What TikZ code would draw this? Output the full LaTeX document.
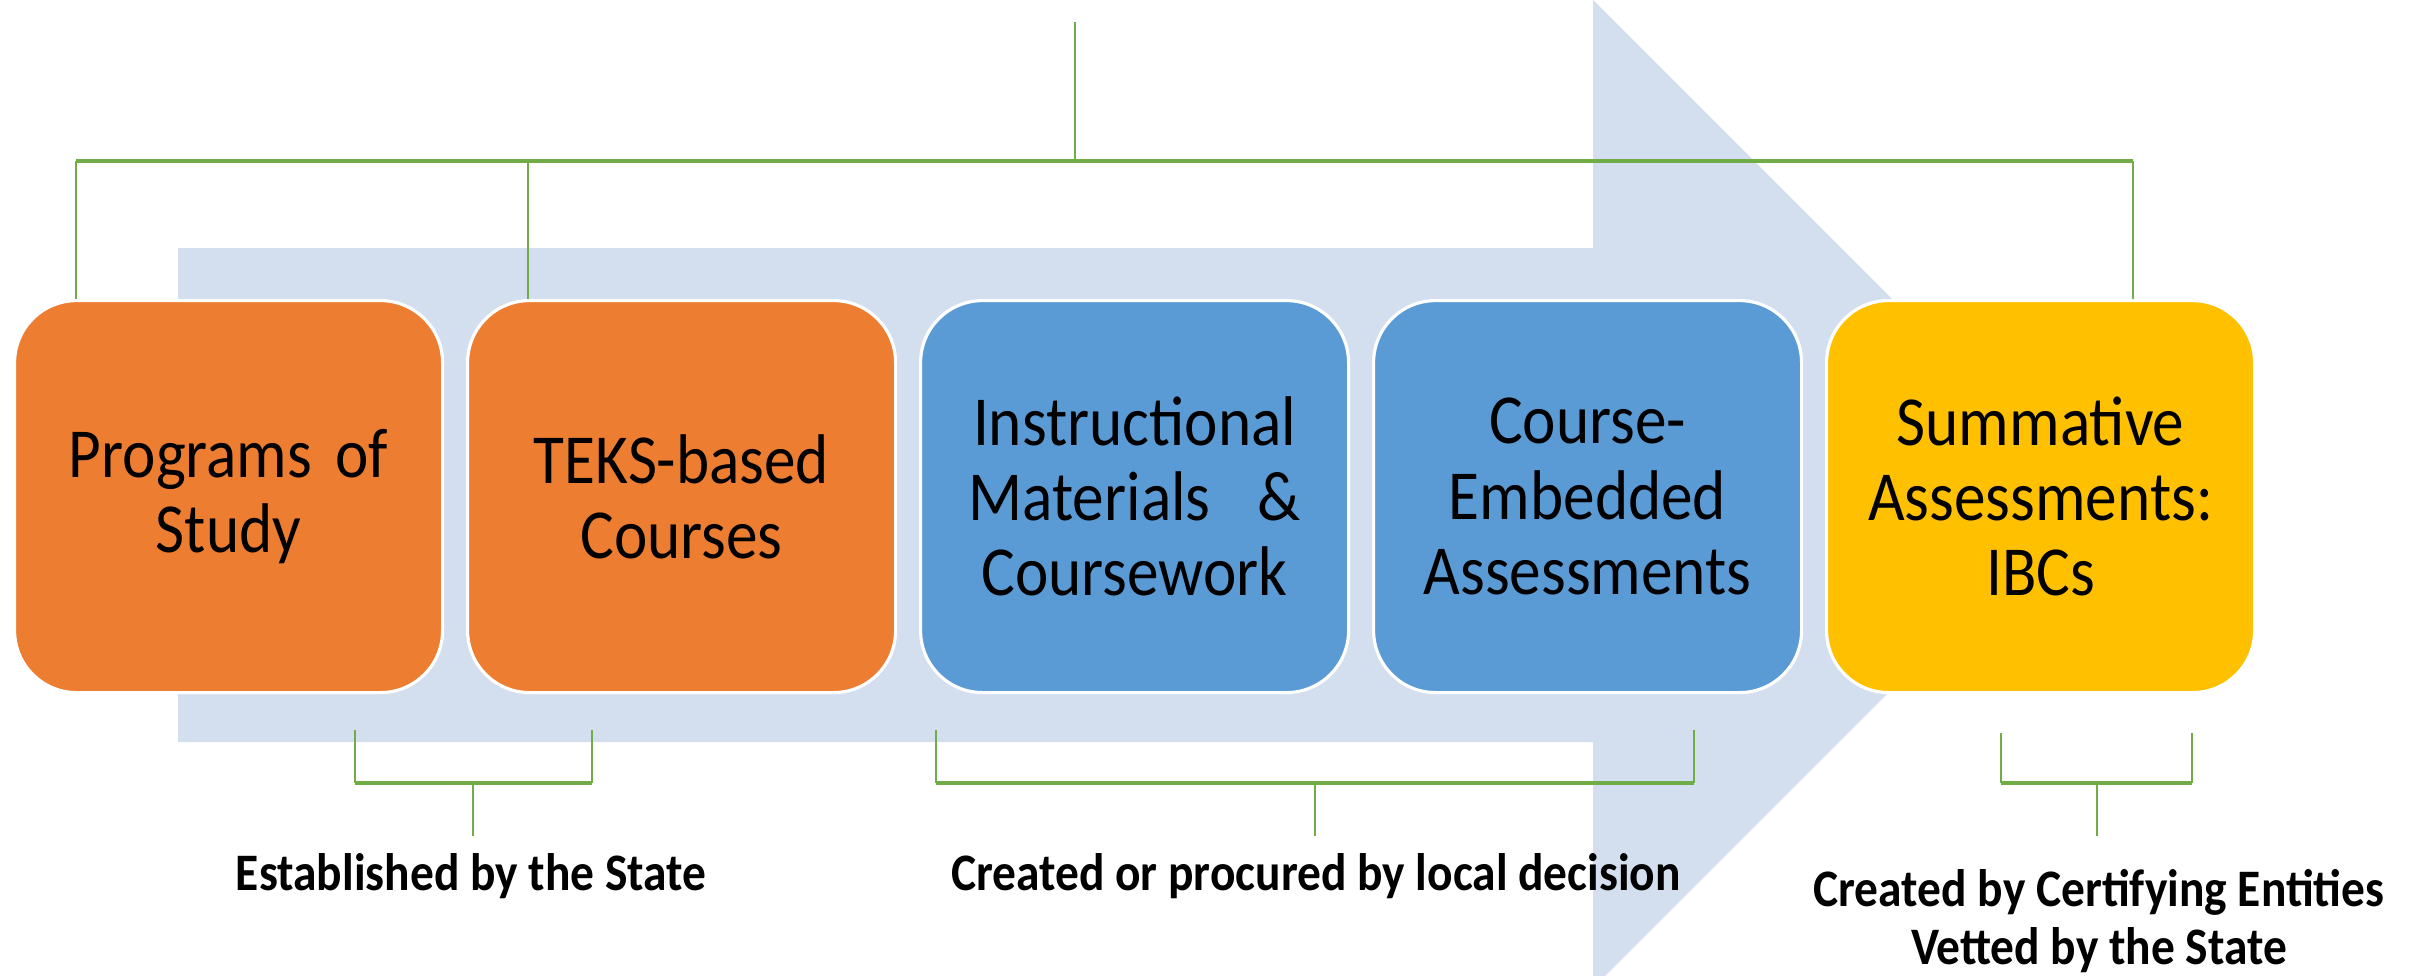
\documentclass[tikz,border=0pt]{standalone}
\usepackage{fontspec}
\setmainfont{Carlito}[FakeStretch=0.9]
\usepackage{tikz}
\definecolor{stepOrange}{HTML}{ED7D31}
\definecolor{stepBlue}{HTML}{5B9BD5}
\definecolor{stepGold}{HTML}{FFC000}
\definecolor{linkGreen}{HTML}{70AD47}
\definecolor{arrowBack}{HTML}{D3DEEF}
\pgfmathsetmacro{\boxW}{4.28}
\pgfmathsetmacro{\boxH}{3.92}
\pgfmathsetmacro{\boxStep}{4.53}
\tikzset{
	stepbox/.style= {
		shape=rectangle, rounded corners=6.2mm,
		minimum width=\boxW cm, minimum height=\boxH cm,
		inner sep=0, anchor=north west,
		draw=white, line width=0.9pt,
		text width=3.9cm, align=center,
		font=\fontsize{20}{21.4}\selectfont
	},
	bus/.style={draw=linkGreen, line width=1.1pt},
	stem/.style={draw=linkGreen, line width=0.75pt},
	note/.style={font=\bfseries\fontsize{15}{16.4}\selectfont, align=center, inner sep=0}
}

\begin{document}
\begin{tikzpicture}
\useasboundingbox (0,0) rectangle (24.12,-9.75);
\clip (0,0) rectangle (24.12,-9.75);
% background arrow
\fill[arrowBack] (1.78,-2.48) -- (15.93,-2.48) -- (15.93,0) -- (20.87,-4.94)
	-- (15.93,-9.88) -- (15.93,-7.42) -- (1.78,-7.42) -- cycle;

% steps
\foreach \name/\col/\txt [count=\i from 0] in {
	pos/stepOrange/{Programs of\\Study},
	teks/stepOrange/{TEKS-based\\Courses},
	instr/stepBlue/{Instructional\\Materials\ \ \&\\Coursework},
	embed/stepBlue/{Course-\\Embedded\\Assessments},
	summ/stepGold/{Summative\\Assessments:\\IBCs}}{%
	\node[stepbox, fill=\col] (\name) at ({0.13+\i*\boxStep}, -2.99) {\txt};
}

% top tree
\coordinate (top) at (10.75,-0.22);
\coordinate (hub) at (10.75,-1.61);
\coordinate (pA) at ([xshift=6.3mm]pos.north west);
\coordinate (pB) at ([xshift=6.2mm]teks.north west);
\coordinate (pC) at ([xshift=-12.3mm]summ.north east);
\draw[stem] (top) -- (hub);
\draw[stem] (pA |- hub) -- (pA);
\draw[stem] (pB |- hub) -- (pB);
\draw[stem] (pC |- hub) -- (pC);
\draw[bus] (pA |- hub) -- (pC |- hub);

% brackets under the steps
\foreach \l/\r/\t/\m [count=\j] in {3.55/5.92/7.30/4.73, 9.36/16.94/7.30/13.15, 20.01/21.92/7.33/20.97}{%
	\coordinate (brL\j) at (\l,-\t);
	\coordinate (brR\j) at (\r,-\t);
	\coordinate (brM\j) at (\m,-7.83);
	\coordinate (brS\j) at (\m,-8.36);
	\draw[stem] (brL\j) -- (brL\j |- brM\j) (brR\j) -- (brR\j |- brM\j) (brM\j) -- (brS\j);
	\draw[bus] (brL\j |- brM\j) -- (brR\j |- brM\j);
}

\node[note, anchor=base] (est) at (4.71,-8.90) {Established by the State};
\node[note, anchor=base] (loc) at (13.16,-8.90) {Created or procured by local decision};
\node[note] (cert) at (20.99,-9.21) {Created by Certifying Entities\\Vetted by the State};
\end{tikzpicture}
\end{document}
